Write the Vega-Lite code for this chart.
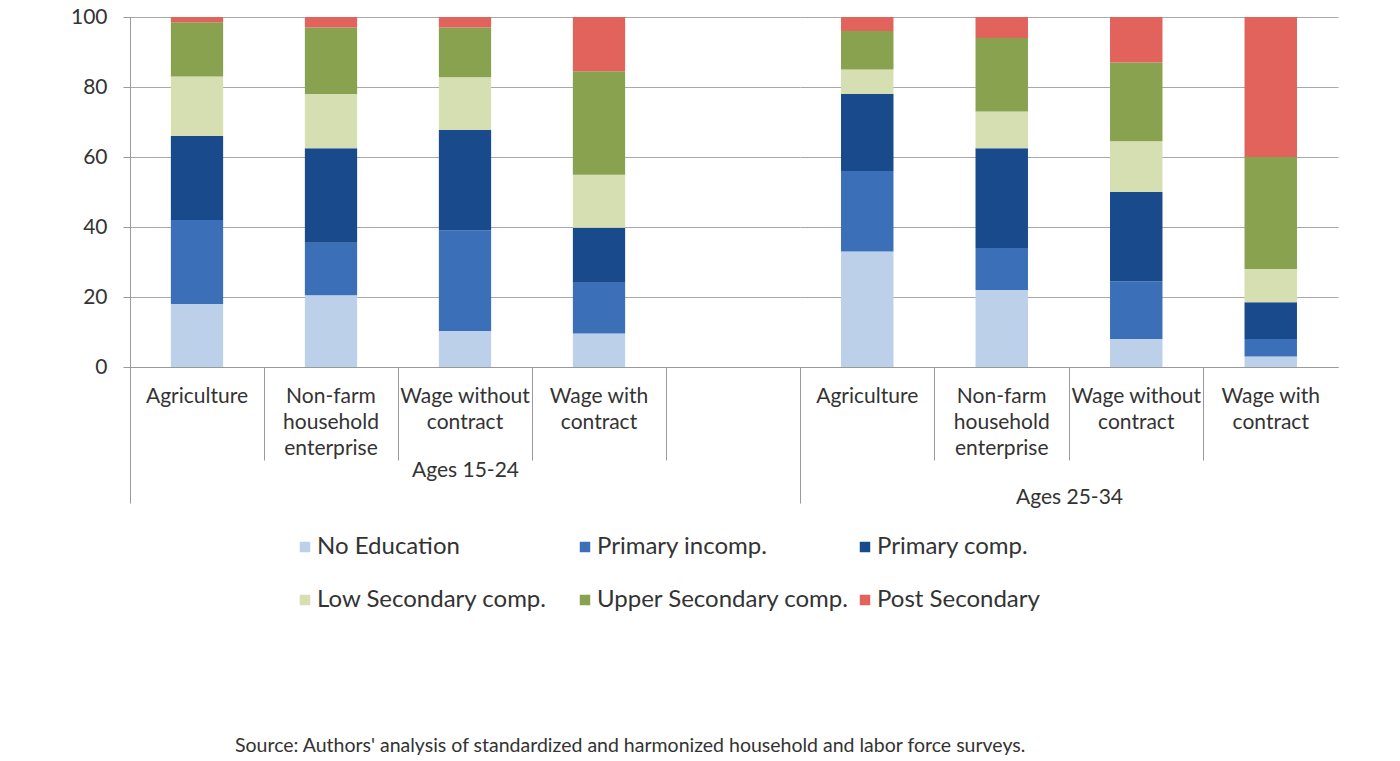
{
  "$schema": "https://vega.github.io/schema/vega-lite/v6.json",
  "background": "white",
  "padding": {"left": 70, "top": 6, "right": 10, "bottom": 5},
  "config": {"font": "Lato", "view": {"stroke": null}},
  "spacing": 0,
  "bounds": "flush",
  "datasets": {
    "edu": [
      {"age": "15-24", "sector": "Agriculture", "level": "No Education", "ord": 1, "pct": 18},
      {"age": "15-24", "sector": "Agriculture", "level": "Primary incomp.", "ord": 2, "pct": 24},
      {"age": "15-24", "sector": "Agriculture", "level": "Primary comp.", "ord": 3, "pct": 24},
      {"age": "15-24", "sector": "Agriculture", "level": "Low Secondary comp.", "ord": 4, "pct": 17},
      {"age": "15-24", "sector": "Agriculture", "level": "Upper Secondary comp.", "ord": 5, "pct": 15.5},
      {"age": "15-24", "sector": "Agriculture", "level": "Post Secondary", "ord": 6, "pct": 1.5},
      {"age": "15-24", "sector": "Non-farm household enterprise", "level": "No Education", "ord": 1, "pct": 20.5},
      {"age": "15-24", "sector": "Non-farm household enterprise", "level": "Primary incomp.", "ord": 2, "pct": 15},
      {"age": "15-24", "sector": "Non-farm household enterprise", "level": "Primary comp.", "ord": 3, "pct": 27},
      {"age": "15-24", "sector": "Non-farm household enterprise", "level": "Low Secondary comp.", "ord": 4, "pct": 15.5},
      {"age": "15-24", "sector": "Non-farm household enterprise", "level": "Upper Secondary comp.", "ord": 5, "pct": 19},
      {"age": "15-24", "sector": "Non-farm household enterprise", "level": "Post Secondary", "ord": 6, "pct": 3},
      {"age": "15-24", "sector": "Wage without contract", "level": "No Education", "ord": 1, "pct": 10.3},
      {"age": "15-24", "sector": "Wage without contract", "level": "Primary incomp.", "ord": 2, "pct": 28.8},
      {"age": "15-24", "sector": "Wage without contract", "level": "Primary comp.", "ord": 3, "pct": 28.6},
      {"age": "15-24", "sector": "Wage without contract", "level": "Low Secondary comp.", "ord": 4, "pct": 15.1},
      {"age": "15-24", "sector": "Wage without contract", "level": "Upper Secondary comp.", "ord": 5, "pct": 14.2},
      {"age": "15-24", "sector": "Wage without contract", "level": "Post Secondary", "ord": 6, "pct": 3},
      {"age": "15-24", "sector": "Wage with contract", "level": "No Education", "ord": 1, "pct": 9.6},
      {"age": "15-24", "sector": "Wage with contract", "level": "Primary incomp.", "ord": 2, "pct": 14.5},
      {"age": "15-24", "sector": "Wage with contract", "level": "Primary comp.", "ord": 3, "pct": 15.7},
      {"age": "15-24", "sector": "Wage with contract", "level": "Low Secondary comp.", "ord": 4, "pct": 15.1},
      {"age": "15-24", "sector": "Wage with contract", "level": "Upper Secondary comp.", "ord": 5, "pct": 29.6},
      {"age": "15-24", "sector": "Wage with contract", "level": "Post Secondary", "ord": 6, "pct": 15.5},
      {"age": "25-34", "sector": "Agriculture", "level": "No Education", "ord": 1, "pct": 33},
      {"age": "25-34", "sector": "Agriculture", "level": "Primary incomp.", "ord": 2, "pct": 23},
      {"age": "25-34", "sector": "Agriculture", "level": "Primary comp.", "ord": 3, "pct": 22},
      {"age": "25-34", "sector": "Agriculture", "level": "Low Secondary comp.", "ord": 4, "pct": 7},
      {"age": "25-34", "sector": "Agriculture", "level": "Upper Secondary comp.", "ord": 5, "pct": 11},
      {"age": "25-34", "sector": "Agriculture", "level": "Post Secondary", "ord": 6, "pct": 4},
      {"age": "25-34", "sector": "Non-farm household enterprise", "level": "No Education", "ord": 1, "pct": 22},
      {"age": "25-34", "sector": "Non-farm household enterprise", "level": "Primary incomp.", "ord": 2, "pct": 12},
      {"age": "25-34", "sector": "Non-farm household enterprise", "level": "Primary comp.", "ord": 3, "pct": 28.5},
      {"age": "25-34", "sector": "Non-farm household enterprise", "level": "Low Secondary comp.", "ord": 4, "pct": 10.5},
      {"age": "25-34", "sector": "Non-farm household enterprise", "level": "Upper Secondary comp.", "ord": 5, "pct": 21},
      {"age": "25-34", "sector": "Non-farm household enterprise", "level": "Post Secondary", "ord": 6, "pct": 6},
      {"age": "25-34", "sector": "Wage without contract", "level": "No Education", "ord": 1, "pct": 8},
      {"age": "25-34", "sector": "Wage without contract", "level": "Primary incomp.", "ord": 2, "pct": 16.5},
      {"age": "25-34", "sector": "Wage without contract", "level": "Primary comp.", "ord": 3, "pct": 25.5},
      {"age": "25-34", "sector": "Wage without contract", "level": "Low Secondary comp.", "ord": 4, "pct": 14.5},
      {"age": "25-34", "sector": "Wage without contract", "level": "Upper Secondary comp.", "ord": 5, "pct": 22.5},
      {"age": "25-34", "sector": "Wage without contract", "level": "Post Secondary", "ord": 6, "pct": 13},
      {"age": "25-34", "sector": "Wage with contract", "level": "No Education", "ord": 1, "pct": 3},
      {"age": "25-34", "sector": "Wage with contract", "level": "Primary incomp.", "ord": 2, "pct": 5},
      {"age": "25-34", "sector": "Wage with contract", "level": "Primary comp.", "ord": 3, "pct": 10.5},
      {"age": "25-34", "sector": "Wage with contract", "level": "Low Secondary comp.", "ord": 4, "pct": 9.5},
      {"age": "25-34", "sector": "Wage with contract", "level": "Upper Secondary comp.", "ord": 5, "pct": 32},
      {"age": "25-34", "sector": "Wage with contract", "level": "Post Secondary", "ord": 6, "pct": 40}
    ]
  },
  "title": {
    "text": "Source: Authors' analysis of standardized and harmonized household and labor force surveys.",
    "orient": "bottom", "anchor": "start", "frame": "group", "dx": 105, "offset": 125,
    "fontSize": 19.5, "fontWeight": "normal", "color": "#333"
  },
  "hconcat": [
    {
      "width": 670, "height": 350,
      "data": {"name": "edu"},
      "transform": [{"filter": "datum.age == '15-24'"}],
      "mark": {"type": "bar", "width": {"band": 0.39}},
      "encoding": {
        "x": {
          "field": "sector", "type": "nominal",
          "scale": {"domain": ["Agriculture", "Non-farm household enterprise", "Wage without contract", "Wage with contract", " "], "paddingInner": 0, "paddingOuter": 0},
          "axis": {
            "title": "Ages 15-24", "titleY": 103, "titleBaseline": "middle", "titleFontSize": 21, "titleFontWeight": "normal", "titleColor": "#333",
            "bandPosition": 0, "labelAngle": 0, "labelAlign": "center", "labelBaseline": "top",
            "labelPadding": {"condition": {"test": "datum.value == 'Agriculture'", "value": -118}, "value": -75},
            "labelFontSize": 21, "labelColor": "#333", "labelLineHeight": 26,
            "labelExpr": "datum.value == 'Non-farm household enterprise' ? ['Non-farm','household','enterprise'] : datum.value == 'Wage without contract' ? ['Wage without','contract'] : datum.value == 'Wage with contract' ? ['Wage with','contract'] : datum.value == ' ' ? '' : datum.value",
            "tickColor": "#999", "tickSize": {"condition": {"test": "datum.value == 'Agriculture'", "value": 136}, "value": 93},
            "domainColor": "#999", "grid": false
          }
        },
        "y": {
          "field": "pct", "type": "quantitative", "stack": "zero",
          "scale": {"domain": [0, 100], "nice": false},
          "axis": {"values": [0, 20, 40, 60, 80, 100], "title": null, "labelFontSize": 21, "labelColor": "#333", "labelPadding": 16, "tickSize": 7, "tickColor": "#999", "domainColor": "#999", "gridColor": "#a8a8a8"}
        },
        "color": {
          "field": "level", "type": "nominal",
          "scale": {
            "domain": ["No Education", "Primary incomp.", "Primary comp.", "Low Secondary comp.", "Upper Secondary comp.", "Post Secondary"],
            "range": ["#bdd0ea", "#3b70b9", "#184a8c", "#d6dfb2", "#88a24f", "#e2625c"]
          },
          "legend": {
            "orient": "none", "legendX": 163, "legendY": 518, "direction": "horizontal", "columns": 3, "title": null,
            "symbolType": "square", "symbolSize": 110, "symbolStrokeWidth": 0, "labelFontSize": 24, "labelColor": "#333",
            "columnPadding": 4, "rowPadding": 29, "gridAlign": "all", "labelOffset": 0, "padding": 0, "labelLimit": 400
          }
        },
        "order": {"field": "ord", "type": "quantitative"}
      }
    },
    {
      "width": 538, "height": 350,
      "data": {"name": "edu"},
      "transform": [{"filter": "datum.age == '25-34'"}],
      "mark": {"type": "bar", "width": {"band": 0.39}},
      "encoding": {
        "x": {
          "field": "sector", "type": "nominal",
          "scale": {"domain": ["Agriculture", "Non-farm household enterprise", "Wage without contract", "Wage with contract"], "paddingInner": 0, "paddingOuter": 0},
          "axis": {
            "title": "Ages 25-34", "titleY": 130, "titleBaseline": "middle", "titleFontSize": 21, "titleFontWeight": "normal", "titleColor": "#333",
            "bandPosition": 0, "labelAngle": 0, "labelAlign": "center", "labelBaseline": "top",
            "labelPadding": {"condition": {"test": "datum.value == 'Agriculture'", "value": -118}, "value": -75},
            "labelFontSize": 21, "labelColor": "#333", "labelLineHeight": 26,
            "labelExpr": "datum.value == 'Non-farm household enterprise' ? ['Non-farm','household','enterprise'] : datum.value == 'Wage without contract' ? ['Wage without','contract'] : datum.value == 'Wage with contract' ? ['Wage with','contract'] : datum.value",
            "tickColor": "#999", "tickSize": {"condition": {"test": "datum.value == 'Agriculture'", "value": 136}, "value": 93},
            "domainColor": "#999", "grid": false
          }
        },
        "y": {
          "field": "pct", "type": "quantitative", "stack": "zero",
          "scale": {"domain": [0, 100], "nice": false},
          "axis": {"values": [0, 20, 40, 60, 80, 100], "title": null, "labels": false, "ticks": false, "domain": false, "gridColor": "#a8a8a8"}
        },
        "color": {"field": "level", "type": "nominal"},
        "order": {"field": "ord", "type": "quantitative"}
      }
    }
  ]
}
